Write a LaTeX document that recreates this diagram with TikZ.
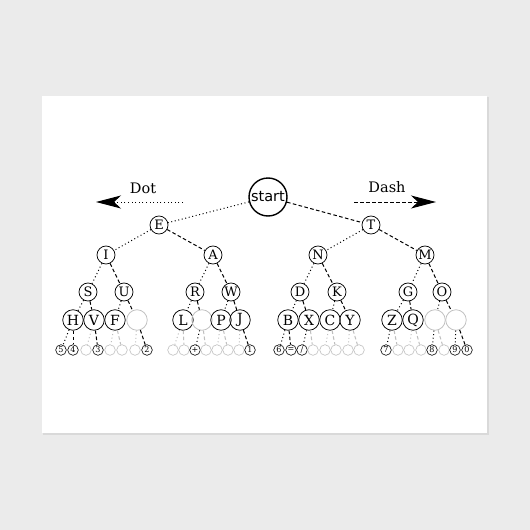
\documentclass[tikz,border=0pt]{standalone}
\usepackage{fontspec}
\setmainfont{DejaVu Serif}
\newfontfamily\startfont{DejaVu Sans}
\usetikzlibrary{arrows.meta}

\newcommand{\slashsign}{/}

\tikzset{
  letter/.style={circle,draw,line width=0.75pt,inner sep=0pt,minimum size=18pt,font=\fontsize{13}{14}\selectfont},
  bigletter/.style={letter,minimum size=20.5pt,font=\fontsize{14}{15}\selectfont},
  digit/.style={circle,draw,line width=0.6pt,inner sep=0pt,minimum size=10.6pt,font=\fontsize{8}{9}\selectfont},
  blank/.style={draw=gray!50},
  dotline/.style={line width=1pt,dash pattern=on 1pt off 2.6pt},
  dashline/.style={line width=1pt,dash pattern=on 3.6pt off 2.4pt},
}

\begin{document}
\begin{tikzpicture}[x=1pt,y=-1pt]

% postcard
\useasboundingbox (0,0) rectangle (530,530);
\fill[black!8] (0,0) rectangle (530,530);
\fill[black!15] (43,97) rectangle (489,435);
\fill[white] (42,96) rectangle (487,433);

\node[circle,draw,line width=1.4pt,inner sep=0pt,minimum size=38pt,font=\startfont\fontsize{14.5}{15}\selectfont] (start) at (268,197) {start};

% Dot / Dash arrows
\node[font=\fontsize{14.5}{16}\selectfont] (dot) at (143,188) {Dot};
\node[font=\fontsize{14.5}{16}\selectfont] (dash) at (387,187) {Dash};
\coordinate (dotstart) at (183,202);
\coordinate (dotend) at (96,202);
\coordinate (dashstart) at (354,202);
\coordinate (dashend) at (436,202);
\draw[dotline,-{Stealth[length=25pt,width=13pt,inset=7pt]}] (dotstart) -- (dotend);
\draw[dashline,-{Stealth[length=25pt,width=13pt,inset=7pt]}] (dashstart) -- (dashend);

% first row
\node[letter] (E) at (159,225) {E};
\node[letter] (T) at (371,225) {T};
\draw[dotline] (start) -- (E);
\draw[dashline] (start) -- (T);

% second row
\node[letter] (I) at (106,255) {I};
\node[letter] (A) at (213,255) {A};
\node[letter] (N) at (318,255) {N};
\node[letter] (M) at (425,255) {M};
\draw[dotline] (E) -- (I);
\draw[dashline] (E) -- (A);
\draw[dotline] (T) -- (N);
\draw[dashline] (T) -- (M);

% third row
\node[letter] (S) at (88,292) {S};
\node[letter] (U) at (124,292) {U};
\node[letter] (R) at (195,292) {R};
\node[letter] (W) at (231,292) {W};
\node[letter] (D) at (300,292) {D};
\node[letter] (K) at (337,292) {K};
\node[letter] (G) at (408,292) {G};
\node[letter] (O) at (442,292) {O};
\draw[dotline] (I) -- (S);
\draw[dashline] (I) -- (U);
\draw[dotline] (A) -- (R);
\draw[dashline] (A) -- (W);
\draw[dotline] (N) -- (D);
\draw[dashline] (N) -- (K);
\draw[dotline] (M) -- (G);
\draw[dashline] (M) -- (O);

% fourth row
\node[bigletter] (H) at (73,320) {H};
\node[bigletter] (V) at (94,320) {V};
\node[bigletter] (F) at (115,320) {F};
\node[bigletter,blank] (xU) at (137,320) {};
\node[bigletter] (L) at (183,320) {L};
\node[bigletter,blank] (xR) at (202,320) {};
\node[bigletter] (P) at (221,320) {P};
\node[bigletter] (J) at (240,320) {J};
\node[bigletter] (B) at (288,320) {B};
\node[bigletter] (X) at (309,320) {X};
\node[bigletter] (C) at (330,320) {C};
\node[bigletter] (Y) at (350,320) {Y};
\node[bigletter] (Z) at (392,320) {Z};
\node[bigletter] (Q) at (413,320) {Q};
\node[bigletter,blank] (xOdot) at (435,320) {};
\node[bigletter,blank] (xOdash) at (456,320) {};
\draw[dotline] (S) -- (H);
\draw[dashline] (S) -- (V);
\draw[dotline] (U) -- (F);
\draw[dashline] (U) -- (xU);
\draw[dotline] (R) -- (L);
\draw[dashline] (R) -- (xR);
\draw[dotline] (W) -- (P);
\draw[dashline] (W) -- (J);
\draw[dotline] (D) -- (B);
\draw[dashline] (D) -- (X);
\draw[dotline] (K) -- (C);
\draw[dashline] (K) -- (Y);
\draw[dotline] (G) -- (Z);
\draw[dashline] (G) -- (Q);
\draw[dotline] (O) -- (xOdot);
\draw[dashline] (O) -- (xOdash);

% fifth row: name/x/label/parent/line/colour
\foreach \n/\x/\t/\p/\l/\c in {
  h5/61/5/H/dotline/black, h4/73/4/H/dashline/black,
  v1/86//V/dotline/gray!50, v3/98/3/V/dashline/black,
  f1/110//F/dotline/gray!50, f2/122//F/dashline/gray!50,
  u1/135//xU/dotline/gray!50, u2/147/2/xU/dashline/black,
  l1/173//L/dotline/gray!50, l2/184//L/dashline/gray!50,
  plus/195/+/xR/dotline/black, r2/206//xR/dashline/gray!50,
  p1/217//P/dotline/gray!50, p2/228//P/dashline/gray!50,
  j1/239//J/dotline/gray!50, j2/250/1/J/dashline/black,
  b6/279/6/B/dotline/black, eq/291/=/B/dashline/black,
  sl/302/\slashsign/X/dotline/black, x2/313//X/dashline/gray!50,
  c1/325//C/dotline/gray!50, c2/336//C/dashline/gray!50,
  y1/348//Y/dotline/gray!50, y2/359//Y/dashline/gray!50,
  z7/386/7/Z/dotline/black, z2/398//Z/dashline/gray!50,
  q1/409//Q/dotline/gray!50, q2/421//Q/dashline/gray!50,
  o8/432/8/xOdot/dotline/black, o2/444//xOdot/dashline/gray!50,
  o9/455/9/xOdash/dotline/black, o0/467/0/xOdash/dashline/black}
{
  \node[digit,draw=\c] (\n) at (\x,350) {\t};
  \draw[\l,draw=\c] (\p) -- (\n);
}

\end{tikzpicture}
\end{document}
